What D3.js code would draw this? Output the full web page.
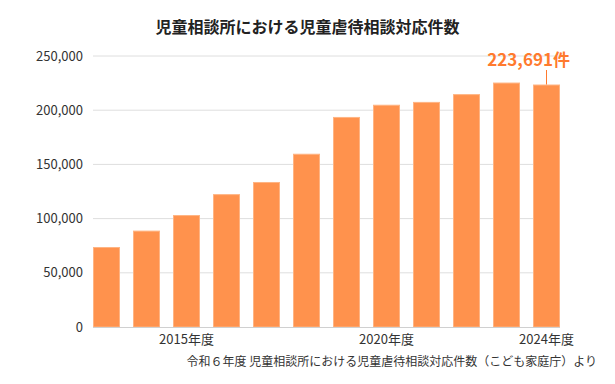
<!DOCTYPE html>
<html>
<head>
<meta charset="utf-8">
<script src="https://cdn.jsdelivr.net/npm/d3@7"></script>
<style>
  body { margin: 0; background: #fff; }
  text { font-family: "Noto Sans CJK JP", "Noto Sans", sans-serif; }
</style>
</head>
<body>
<div id="chart"></div>
<script>
// data
var years = ["2013", "2014", "2015", "2016", "2017", "2018", "2019", "2020", "2021", "2022", "2023", "2024"];
var counts = [73802, 88931, 103286, 122575, 133778, 159838, 193780, 205044, 207660, 214843, 225509, 223691];
var y_ticks = [0, 50000, 100000, 150000, 200000, 250000];
var x_labels = { "2015": "2015年度", "2020": "2020年度", "2024": "2024年度" };
var title_text = "児童相談所における児童虐待相談対応件数";
var note_text = "223,691件";
var source_text = "令和６年度 児童相談所における児童虐待相談対応件数（こども家庭庁）より";

var width = 615, height = 384;
var plot = { left: 93, right: 560, top: 56, bottom: 327 };

var svg = d3.select("#chart").append("svg")
    .attr("width", width)
    .attr("height", height);

var x = d3.scaleBand()
    .domain(years)
    .range([plot.left, plot.right])
    .paddingInner(0.325)
    .paddingOuter(0);

var y = d3.scaleLinear()
    .domain([0, 250000])
    .range([plot.bottom, plot.top]);

// gridlines
svg.append("g")
    .selectAll("line")
    .data(y_ticks.slice(1))
    .join("line")
        .attr("x1", plot.left)
        .attr("x2", plot.right)
        .attr("y1", function(d) { return y(d); })
        .attr("y2", function(d) { return y(d); })
        .attr("stroke", "#dedede")
        .attr("stroke-width", 1);

// y axis labels
var y_axis = svg.append("g")
    .attr("transform", "translate(" + plot.left + ",0)")
    .call(d3.axisLeft(y).tickValues(y_ticks).tickSize(0).tickPadding(10)
        .tickFormat(function(d) { return d === 0 ? "0" : d3.format(",")(d); }));
y_axis.select(".domain").remove();
y_axis.selectAll("text")
    .attr("font-size", 13)
    .attr("fill", "#333")
    .style("font-family", "'Noto Sans CJK JP', sans-serif");

// bars
svg.append("g")
    .selectAll("rect")
    .data(years)
    .join("rect")
        .attr("x", function(d) { return x(d) + 0.5; })
        .attr("y", function(d, i) { return y(counts[i]) + 0.5; })
        .attr("width", x.bandwidth() - 1)
        .attr("height", function(d, i) { return plot.bottom - y(counts[i]) - 0.5; })
        .attr("fill", "#ff924d")
        .attr("stroke", "#ffb483")
        .attr("stroke-width", 1);

// baseline
svg.append("line")
    .attr("x1", plot.left)
    .attr("x2", plot.right)
    .attr("y1", plot.bottom + 0.5)
    .attr("y2", plot.bottom + 0.5)
    .attr("stroke", "#d0d0d0")
    .attr("stroke-width", 1);

// x axis labels
var x_axis = svg.append("g")
    .attr("transform", "translate(0," + plot.bottom + ")")
    .call(d3.axisBottom(x).tickSize(0).tickPadding(8)
        .tickFormat(function(d) { return x_labels[d] || ""; }));
x_axis.select(".domain").remove();
x_axis.selectAll("text")
    .attr("font-size", 13)
    .attr("fill", "#333")
    .style("font-family", "'Noto Sans CJK JP', sans-serif");

// title
svg.append("text")
    .attr("x", 307.5)
    .attr("y", 33)
    .attr("text-anchor", "middle")
    .attr("font-size", 16)
    .attr("font-weight", "bold")
    .attr("fill", "#222")
    .text(title_text);

// latest value callout
var last = years[years.length - 1];
var last_cx = x(last) + x.bandwidth() / 2;
svg.append("line")
    .attr("x1", last_cx)
    .attr("x2", last_cx)
    .attr("y1", 70)
    .attr("y2", y(counts[counts.length - 1]))
    .attr("stroke", "#ff7a2e")
    .attr("stroke-width", 1);

svg.append("text")
    .attr("x", x(last) + x.bandwidth() + 10)
    .attr("y", 66)
    .attr("text-anchor", "end")
    .attr("font-size", 17)
    .attr("font-weight", "bold")
    .attr("fill", "#ff7a2e")
    .text(note_text);

// source
svg.append("text")
    .attr("x", 597)
    .attr("y", 366)
    .attr("text-anchor", "end")
    .attr("font-size", 12)
    .attr("fill", "#333")
    .text(source_text);
</script>
</body>
</html>
